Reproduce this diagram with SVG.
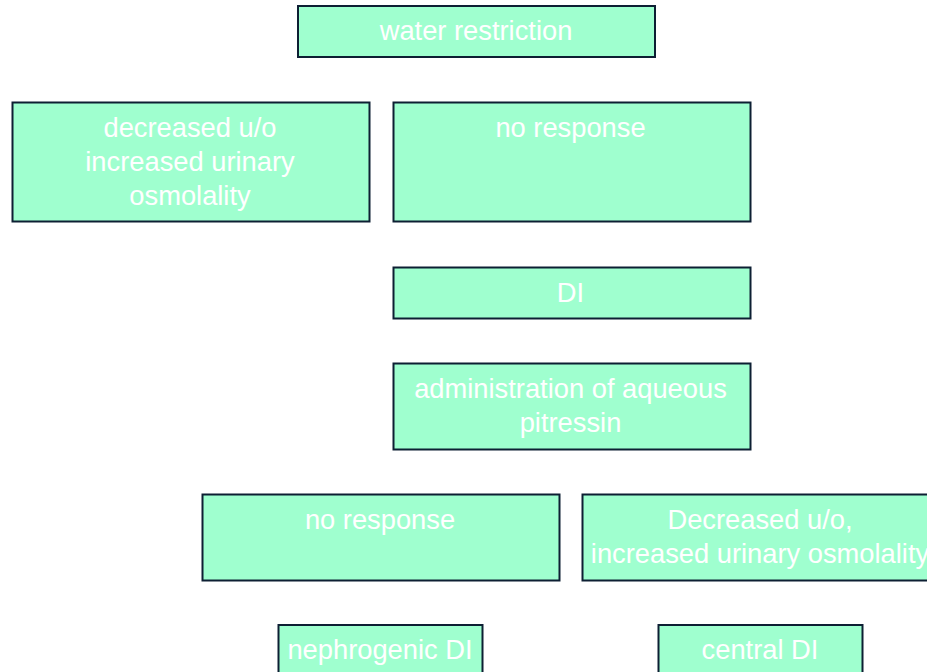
<svg xmlns="http://www.w3.org/2000/svg" width="927" height="672" viewBox="0 0 927 672">
  <style>
    .box { fill: #9fffcf; stroke: #0d1f33; stroke-width: 2; }
    .lbl { fill: #ffffff; font-family: "Liberation Sans", Arial, sans-serif; font-size: 27.3px; text-anchor: middle; }
  </style>
  <rect width="927" height="672" fill="#ffffff"/>
  <g id="connectors"/>
  <g id="water-restriction">
    <rect class="box" x="298" y="6" width="357" height="51"/>
    <text class="lbl" x="476" y="39.5">water restriction</text>
  </g>
  <g id="decreased-uo">
    <rect class="box" x="12.5" y="102.5" width="357" height="119"/>
    <text class="lbl" x="190" y="136.5">decreased u/o</text>
    <text class="lbl" x="190" y="170.5">increased urinary</text>
    <text class="lbl" x="190" y="204.5">osmolality</text>
  </g>
  <g id="no-response-1">
    <rect class="box" x="393.5" y="102.5" width="357" height="119"/>
    <text class="lbl" x="570.5" y="136.5">no response</text>
  </g>
  <g id="di">
    <rect class="box" x="393.5" y="267.5" width="357" height="51"/>
    <text class="lbl" x="570.5" y="302">DI</text>
  </g>
  <g id="pitressin">
    <rect class="box" x="393.5" y="363.5" width="357" height="86"/>
    <text class="lbl" x="570.5" y="398">administration of aqueous</text>
    <text class="lbl" x="570.5" y="432">pitressin</text>
  </g>
  <g id="no-response-2">
    <rect class="box" x="202.5" y="494.5" width="357" height="86"/>
    <text class="lbl" x="380" y="529">no response</text>
  </g>
  <g id="decreased-uo-2">
    <rect class="box" x="582.5" y="494.5" width="357" height="86"/>
    <text class="lbl" x="760" y="528.5">Decreased u/o,</text>
    <text class="lbl" x="760" y="562.5">increased urinary osmolality</text>
  </g>
  <g id="nephrogenic-di">
    <rect class="box" x="278.5" y="625" width="204" height="60"/>
    <text class="lbl" x="380" y="658.5">nephrogenic DI</text>
  </g>
  <g id="central-di">
    <rect class="box" x="658.5" y="625" width="204" height="60"/>
    <text class="lbl" x="760" y="658.5">central DI</text>
  </g>
</svg>
